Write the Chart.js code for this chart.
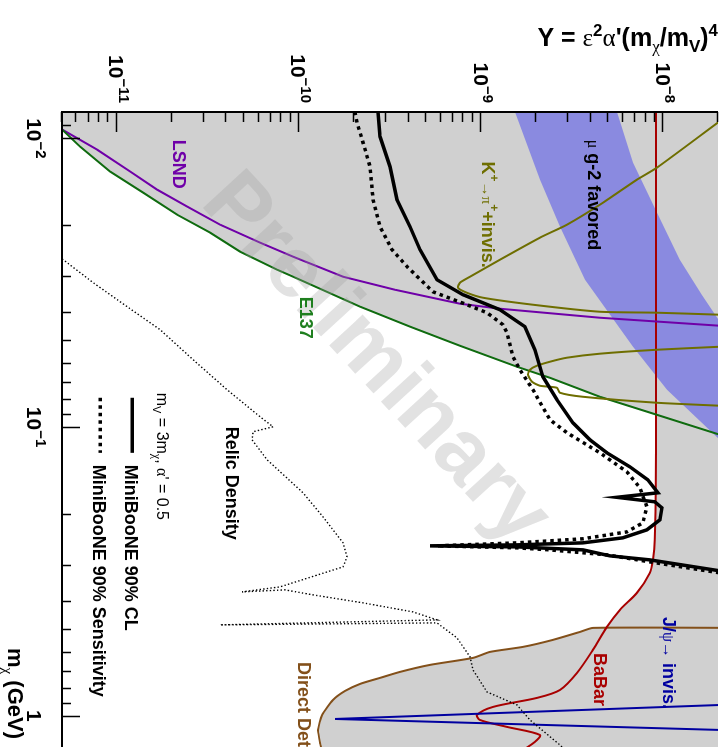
<!DOCTYPE html>
<html>
<head>
<meta charset="utf-8">
<script src="https://cdn.jsdelivr.net/npm/chart.js@4.4.1/dist/chart.umd.min.js"></script>
<style>
  html, body { margin: 0; padding: 0; background: #fff; overflow: hidden; width: 726px; height: 747px; }
  /* the plot is laid out landscape and turned a quarter turn clockwise */
  #frame { position: absolute; left: 0; top: 0; width: 747px; height: 726px;
           transform-origin: 0 0; transform: translate(726px, 0) rotate(90deg); }
</style>
</head>
<body>
<div id="frame"><canvas id="plot" width="747" height="726"></canvas></div>
<script>
// ---- curves: dark-matter mass m_chi (GeV) and Y = eps^2 alpha' (m_chi/m_V)^4 ----
const lsndMass = [8.54e-3, 9.32e-3, 1.094e-2, 1.303e-2, 1.505e-2, 1.723e-2, 1.99e-2, 2.297e-2, 2.569e-2, 3.014e-2, 3.344e-2, 3.738e-2, 3.89e-2, 4.18e-2, 4.456e-2, 4.49e-2];
const lsndY    = [4.31e-12, 5.01e-12, 7.8e-12, 1.184e-11, 1.665e-11, 2.433e-11, 3.692e-11, 6.117e-11, 9.29e-11, 1.747e-10, 3.371e-10, 7.66e-10, 1.27e-9, 4.494e-9, 2.047e-8, 2.635e-8];

const e137Mass = [8.54e-3, 9.32e-3, 1.068e-2, 1.303e-2, 1.541e-2, 1.838e-2, 2.121e-2, 2.468e-2, 2.85e-2, 3.014e-2, 3.828e-2, 4.49e-2, 5.226e-2, 6.18e-2, 6.748e-2, 7.852e-2, 9.066e-2, 0.1063, 0.1116];
const e137Y    = [4.31e-12, 5.01e-12, 6.29e-12, 9.19e-12, 1.395e-11, 2.144e-11, 3.253e-11, 4.752e-11, 7.586e-11, 9.29e-11, 2.165e-10, 4.073e-10, 7.66e-10, 1.575e-9, 2.389e-9, 4.494e-9, 9.235e-9, 2.047e-8, 2.635e-8];

const babarMass = [7.34e-3, 0.1199, 0.2458, 0.2884, 0.3199, 0.3753, 0.4297, 0.4924, 0.5913, 0.7106, 0.814, 0.8672, 0.932, 0.9936, 1.034, 1.093, 1.166, 1.232, 1.335];
const babarY    = [9.12e-9, 9.12e-9, 9.0e-9, 8.78e-9, 8.45e-9, 7.17e-9, 5.785e-9, 4.91e-9, 4.113e-9, 3.36e-9, 2.71e-9, 2.027e-9, 1.162e-9, 9.5e-10, 9.86e-10, 1.388e-9, 2.105e-9, 1.976e-9, 1.635e-9];

const directMass = [0.4962, 0.4962, 0.5124, 0.5459, 0.5774, 0.6009, 0.6303, 0.6665, 0.7048, 0.7393, 0.7756, 0.8204, 0.8815, 0.9936, 1.12, 1.242, 1.367];
const directY    = [2.635e-8, 4.113e-9, 3.49e-9, 2.481e-9, 1.698e-9, 1.119e-9, 9.03e-10, 5.244e-10, 3.589e-10, 2.788e-10, 2.165e-10, 1.792e-10, 1.539e-10, 1.339e-10, 1.274e-10, 1.306e-10, 1.356e-10];

const jpsiMass = [0.9123, 1.026, 1.125];
const jpsiY    = [2.635e-8, 1.579e-10, 2.635e-8];

const kaonAMass = [7.76e-3, 8.816e-3, 1.263e-2, 1.39e-2, 1.67e-2, 1.99e-2, 2.207e-2, 2.631e-2, 3.014e-2, 3.161e-2, 3.29e-2, 3.425e-2, 3.563e-2, 3.768e-2, 3.985e-2, 4.016e-2, 4.081e-2, 4.113e-2];
const kaonAY    = [2.635e-8, 1.996e-8, 9.235e-9, 7.17e-9, 4.669e-9, 2.961e-9, 2.105e-9, 1.27e-9, 8.694e-10, 7.66e-10, 7.47e-10, 8.37e-10, 1.024e-9, 1.927e-9, 4.494e-9, 9.235e-9, 2.047e-8, 2.635e-8];

const kaonBMass = [5.226e-2, 5.268e-2, 5.396e-2, 5.569e-2, 5.75e-2, 5.937e-2, 6.13e-2, 6.329e-2, 6.586e-2, 6.966e-2, 7.192e-2, 7.307e-2, 7.604e-2, 7.852e-2, 8.236e-2, 8.435e-2, 8.503e-2];
const kaonBY    = [2.635e-8, 2.047e-8, 9.235e-9, 4.494e-9, 2.961e-9, 2.389e-9, 2.027e-9, 1.855e-9, 1.809e-9, 1.903e-9, 2.105e-9, 2.609e-9, 2.71e-9, 3.625e-9, 9.235e-9, 2.047e-8, 2.635e-8];

// muon g-2 favoured band: lower and upper edges
const g2LowMass  = [6.776e-3, 8.08e-3, 1.39e-2, 2.022e-2, 3.087e-2, 5.268e-2, 7.424e-2, 0.1107, 0.1247];
const g2LowY     = [1.353e-9, 1.535e-9, 2.105e-9, 2.71e-9, 3.718e-9, 6.82e-9, 1.048e-8, 2.047e-8, 2.635e-8];
const g2HighMass = [6.776e-3, 8.08e-3, 1.213e-2, 1.808e-2, 2.631e-2, 3.479e-2, 4.315e-2, 5.186e-2];
const g2HighY    = [5.1e-9, 5.569e-9, 6.82e-9, 9.235e-9, 1.235e-8, 1.631e-8, 2.047e-8, 2.635e-8];

// MiniBooNE 90% CL limit and 90% sensitivity
const clMass = [7.34e-3, 8.08e-3, 9.858e-3, 1.252e-2, 1.63e-2, 2.022e-2, 2.429e-2, 3.087e-2, 3.479e-2, 3.921e-2, 4.49e-2, 5.396e-2, 6.695e-2, 8.04e-2, 9.663e-2, 0.1107, 0.1228, 0.1373, 0.1523, 0.1689, 0.1751, 0.1815, 0.1904, 0.2096, 0.227, 0.2419, 0.2518, 0.2559, 0.2579, 0.26, 0.2663, 0.2793, 0.2884, 0.3148, 0.3199];
const clY    = [2.718e-10, 2.718e-10, 2.788e-10, 3.163e-10, 3.455e-10, 4.073e-10, 4.62e-10, 5.728e-10, 7.958e-10, 1.27e-9, 1.742e-9, 1.976e-9, 2.186e-9, 2.609e-9, 3.195e-9, 3.96e-9, 4.91e-9, 6.566e-9, 8.241e-9, 9.352e-9, 5.569e-9, 9.0e-9, 9.837e-9, 9.592e-9, 8.139e-9, 6.009e-9, 3.625e-9, 1.575e-9, 5.244e-10, 1.575e-9, 3.625e-9, 5.1e-9, 8.45e-9, 2.047e-8, 2.635e-8];

const sensMass = [7.34e-3, 8.08e-3, 8.816e-3, 1.034e-2, 1.252e-2, 1.63e-2, 2.022e-2, 2.429e-2, 2.804e-2, 3.398e-2, 3.768e-2, 4.016e-2, 4.42e-2, 4.711e-2, 5.705e-2, 6.329e-2, 7.424e-2, 9.434e-2, 0.1046, 0.1228, 0.1429, 0.1623, 0.1889, 0.2146, 0.2307, 0.2438, 0.2518, 0.2579, 0.262, 0.2663, 0.2771, 0.2931, 0.3199, 0.3276];
const sensY    = [2.032e-10, 2.032e-10, 2.084e-10, 2.249e-10, 2.457e-10, 2.551e-10, 2.788e-10, 3.244e-10, 3.971e-10, 5.445e-10, 8.37e-10, 1.078e-9, 1.319e-9, 1.388e-9, 1.497e-9, 1.635e-9, 1.927e-9, 2.389e-9, 2.961e-9, 4.494e-9, 6.322e-9, 7.45e-9, 8.139e-9, 7.735e-9, 6.322e-9, 3.625e-9, 1.575e-9, 5.728e-10, 1.575e-9, 2.389e-9, 4.91e-9, 8.45e-9, 2.047e-8, 2.635e-8];

// thermal relic density target
const relicMass = [2.448e-2, 2.631e-2, 3.161e-2, 3.828e-2, 4.6e-2, 5.843e-2, 7.424e-2, 9.21e-2, 9.977e-2, 0.1038, 0.1107, 0.1298, 0.1689, 0.2047, 0.2518, 0.2815, 0.3049, 0.3577, 0.3723, 0.3664, 0.3813, 0.4064, 0.4368, 0.4655, 0.4844, 0.4767, 0.5373, 0.6252, 0.6937, 0.827, 0.9173, 1.034, 1.262, 1.367];
const relicY    = [4.31e-12, 5.077e-12, 7.418e-12, 1.14e-11, 1.729e-11, 2.624e-11, 4.032e-11, 6.117e-11, 7.211e-11, 5.6e-11, 5.53e-11, 6.685e-11, 1.053e-10, 1.356e-10, 1.747e-10, 1.837e-10, 1.747e-10, 7.875e-11, 4.873e-11, 8.39e-11, 1.195e-10, 2.249e-10, 4.23e-10, 5.728e-10, 3.692e-11, 5.728e-10, 7.376e-10, 8.694e-10, 9.03e-10, 1.078e-9, 1.575e-9, 1.855e-9, 2.71e-9, 3.076e-9];

// ---- axes ----
const massRange = [0.0081, 1.283];
const yRange = [5e-12, 2e-8];
const yTickValues = [1e-11, 1e-10, 1e-9, 1e-8];
const yTickLabels = [['10', '\u221211'], ['10', '\u221210'], ['10', '\u22129'], ['10', '\u22128']];
const xTickValues = [0.01, 0.1, 1];
const xTickLabels = [['10', '\u22122'], ['10', '\u22121'], ['1', '']];

// ---- colours ----
const C = {
  excluded: '#d0d0d0', g2: '#8a8ae0', lsnd: '#6f00a8', e137: '#0f6b0f', e137Text: '#1f7f1f',
  kaon: '#6e6e00', babar: '#a80000', jpsi: '#0000a0', direct: '#83501a', black: '#000000'
};

const SANS = '"Liberation Sans", Arial, Helvetica, sans-serif';
const SERIF = '"Liberation Serif", "Times New Roman", serif';
const B = s => `bold ${s}px ${SANS}`;
const R = s => `${s}px ${SANS}`;
const G = s => `${s}px ${SERIF}`;

const pts = (xs, ys) => xs.map((x, i) => ({ x, y: ys[i] }));

// excluded region: right of E137, then right of BaBar, then inside the direct-detection curve
const excludedOutline = [
  ...pts(e137Mass, e137Y).filter(p => p.x < 0.095),
  ...pts(babarMass, babarY).filter(p => p.x > 0.1 && p.x < 0.495),
  ...pts(directMass, directY).slice(1),
  { x: 1.5, y: 3e-8 }, { x: 0.007, y: 3e-8 }, { x: 0.007, y: 4e-12 }
];
const g2Outline = [...pts(g2LowMass, g2LowY), ...pts(g2HighMass, g2HighY).reverse()];

function curve(label, mass, y, color, width, order, extra) {
  return Object.assign({
    label, data: pts(mass, y), borderColor: color, borderWidth: width,
    pointRadius: 0, fill: false, tension: 0, order
  }, extra || {});
}

const datasets = [
  { label: 'excluded', data: excludedOutline, fill: 'shape', backgroundColor: C.excluded,
    borderColor: 'rgba(0,0,0,0)', borderWidth: 0, pointRadius: 0, tension: 0, order: 50 },
  { label: 'g-2', data: g2Outline, fill: 'shape', backgroundColor: C.g2,
    borderColor: 'rgba(0,0,0,0)', borderWidth: 0, pointRadius: 0, tension: 0, order: 40 },
  curve('Direct Detection', directMass, directY, C.direct, 2, 20, { tension: 0.2 }),
  curve('BaBar', babarMass, babarY, C.babar, 2, 19, { tension: 0.3 }),
  curve('J/psi invisible', jpsiMass, jpsiY, C.jpsi, 2, 18),
  curve('LSND', lsndMass, lsndY, C.lsnd, 2, 17),
  curve('E137', e137Mass, e137Y, C.e137, 2, 16),
  curve('K+ loop A', kaonAMass, kaonAY, C.kaon, 2, 15, { tension: 0.2 }),
  curve('K+ loop B', kaonBMass, kaonBY, C.kaon, 2, 15, { tension: 0.2 }),
  curve('Relic Density', relicMass, relicY, C.black, 1.4, 12, { borderDash: [1.4, 2.2] }),
  curve('MiniBooNE 90% Sensitivity', sensMass, sensY, C.black, 3.5, 11, { borderDash: [3.5, 4] }),
  curve('MiniBooNE 90% CL', clMass, clY, C.black, 3.5, 10)
];

// draws a run of text pieces [text, font, baselineShift]
function rich(ctx, x, y, segs, align) {
  let w = 0;
  for (const s of segs) { ctx.font = s[1]; w += ctx.measureText(s[0]).width; }
  let cx = align === 'right' ? x - w : align === 'center' ? x - w / 2 : x;
  for (const s of segs) {
    ctx.font = s[1];
    ctx.fillText(s[0], cx, y + (s[2] || 0));
    cx += ctx.measureText(s[0]).width;
  }
  return w;
}

// in-plot labels anchored at (mass, Y)
const labels = [
  { at: [1.01e-2, 2.038e-11], color: C.lsnd, segs: [['LSND', B(18)]] },
  { at: [3.535e-2, 1.014e-10], color: C.e137Text, segs: [['E137', B(18)]] },
  { at: [1.203e-2, 1.012e-9], color: C.kaon, segs: [['K', B(18)], ['+', B(12), -8], ['\u2192', G(15)], ['\u03C0', G(15)], ['+', B(12), -8], ['+invis.', B(18)]] },
  { at: [1.01e-2, 3.861e-9], color: C.black, segs: [['\u03BC', G(16)], [' g-2 favored', B(18)]] },
  { at: [9.977e-2, 3.984e-11], color: C.black, segs: [['Relic Density', B(18)]] },
  { at: [7.604e-2, 1.665e-11], color: C.black, segs: [['m', R(16)], ['V', R(11), 4], [' = 3m', R(16)], ['\u03C7', G(12), 4], [', ', R(16)], ['\u03B1', G(16)], ['\' = 0.5', R(16)]] },
  { at: [0.6057, 4.166e-9], color: C.babar, segs: [['BaBar', B(18)]] },
  { at: [0.4545, 9.963e-9], color: C.jpsi, segs: [['J/', B(18)], ['\u03C8\u2192', G(16)], [' invis.', B(18)]] },
  { at: [0.6508, 9.89e-11], color: C.direct, segs: [['Direct Detection', B(18)]] }
];

// legend entries: sample line from mass a to b at Y, text anchored at (mass, Y)
const legendRows = [
  { line: [7.915e-2, 0.1228, 1.214e-11], text: [0.1351, 1.111e-11], label: 'MiniBooNE 90% CL', dash: [] },
  { line: [7.915e-2, 0.1228, 8.1e-12], text: [0.1351, 7.418e-12], label: 'MiniBooNE 90% Sensitivity', dash: [3.5, 4] }
];

const decor = {
  id: 'decor',
  afterDatasetsDraw(chart) {
    const ctx = chart.ctx;
    ctx.save();
    ctx.translate(360, 351);
    ctx.rotate(-42.6 * Math.PI / 180);
    ctx.font = B(86);
    ctx.textAlign = 'center';
    ctx.textBaseline = 'middle';
    ctx.fillStyle = 'rgba(160,160,160,0.3)';
    ctx.fillText('Preliminary', 0, 0);
    ctx.restore();
  },
  afterDraw(chart) {
    const { ctx, chartArea: a } = chart;
    const xs = chart.scales.x, ys = chart.scales.y;
    ctx.save();
    ctx.strokeStyle = '#000';
    ctx.fillStyle = '#000';

    // frame on the two labelled axes
    ctx.lineWidth = 2;
    ctx.beginPath();
    ctx.moveTo(a.left, a.top); ctx.lineTo(a.left, a.bottom); ctx.lineTo(a.right, a.bottom);
    ctx.stroke();

    // inward ticks
    ctx.lineWidth = 1.5;
    ctx.beginPath();
    for (let e = -12; e <= -8; e++) for (let k = 1; k <= 9; k++) {
      const v = k * Math.pow(10, e);
      if (v < yRange[0] || v > yRange[1]) continue;
      const p = Math.round(ys.getPixelForValue(v)) + 0.5;
      ctx.moveTo(a.left, p); ctx.lineTo(a.left + (k === 1 ? 20 : 10), p);
    }
    for (let e = -3; e <= 0; e++) for (let k = 1; k <= 9; k++) {
      const v = k * Math.pow(10, e);
      if (v < massRange[0] || v > massRange[1]) continue;
      const p = Math.round(xs.getPixelForValue(v)) + 0.5;
      ctx.moveTo(p, a.bottom); ctx.lineTo(p, a.bottom - (k === 1 ? 18 : 9));
    }
    ctx.stroke();

    // tick labels
    ctx.textBaseline = 'alphabetic';
    yTickValues.forEach((v, i) => {
      const p = ys.getPixelForValue(v);
      rich(ctx, a.left - 9, p + 7.5, [[yTickLabels[i][0], B(21)], [yTickLabels[i][1], B(15), -9.5]], 'right');
    });
    xTickValues.forEach((v, i) => {
      const p = xs.getPixelForValue(v);
      const segs = [[xTickLabels[i][0], B(21)]];
      if (xTickLabels[i][1]) segs.push([xTickLabels[i][1], B(15), -9.5]);
      rich(ctx, p, a.bottom + 35, segs, 'center');
    });

    // axis titles
    rich(ctx, 648, 718, [['m', B(22)], ['\u03C7', G(15), 5], [' (GeV)', B(22)]], 'left');
    ctx.save();
    ctx.translate(46, a.top);
    ctx.rotate(-Math.PI / 2);
    rich(ctx, 0, 0, [['Y = ', B(25)], ['\u03B5', G(25)], ['2', B(17), -10], ['\u03B1', G(25)], ['\'(m', B(25)],
      ['\u03C7', G(17), 6], ['/m', B(25)], ['V', B(17), 6], [')', B(25)], ['4', B(17), -10]], 'right');
    ctx.restore();

    // curve labels
    for (const l of labels) {
      ctx.fillStyle = l.color;
      rich(ctx, xs.getPixelForValue(l.at[0]), ys.getPixelForValue(l.at[1]), l.segs, 'left');
    }

    // legend
    ctx.fillStyle = '#000';
    for (const row of legendRows) {
      const py = ys.getPixelForValue(row.line[2]);
      ctx.lineWidth = 3.5;
      ctx.setLineDash(row.dash);
      ctx.beginPath();
      ctx.moveTo(xs.getPixelForValue(row.line[0]), py);
      ctx.lineTo(xs.getPixelForValue(row.line[1]), py);
      ctx.stroke();
      ctx.setLineDash([]);
      rich(ctx, xs.getPixelForValue(row.text[0]), ys.getPixelForValue(row.text[1]), [[row.label, B(18)]], 'left');
    }
    ctx.restore();
  }
};

new Chart(document.getElementById('plot'), {
  type: 'line',
  data: { datasets },
  options: {
    responsive: false,
    animation: false,
    events: [],
    layout: { padding: { left: 112, right: 0, top: 8, bottom: 62 } },
    plugins: { legend: { display: false }, tooltip: { enabled: false } },
    scales: {
      x: { type: 'logarithmic', min: massRange[0], max: massRange[1], bounds: 'data', display: false },
      y: { type: 'logarithmic', min: yRange[0], max: yRange[1], bounds: 'data', display: false }
    }
  },
  plugins: [decor]
});
</script>
</body>
</html>
